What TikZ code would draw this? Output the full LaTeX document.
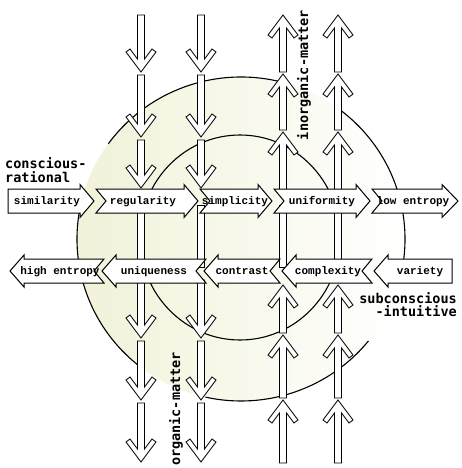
\documentclass[tikz,border=0pt]{standalone}
\usepackage{fontspec}
\newfontfamily\boxfont{Liberation Mono}
\newfontfamily\lblfont{DejaVu Sans Mono}
\definecolor{pale}{RGB}{241,242,216}
\tikzset{
  hbox/.style={draw=black, fill=white, line width=1pt, line join=miter},
  varrow/.style={draw=black, fill=white, line width=0.85pt, line join=miter},
  circ/.style={draw=black, line width=1.1pt},
  btext/.style={font=\boxfont\bfseries\fontsize{11}{11}\selectfont, inner sep=0pt, anchor=base},
  ltext/.style={font=\lblfont\bfseries\fontsize{13.5}{13.5}\selectfont, inner sep=0pt},
}
% down arrow: #1 column x, #2 shaft top, #3 tip
\newcommand\downar[3]{\draw[varrow] (#1-3.5,#2) -- (#1-3.5,#3-13) -- (#1-11,#3-23) -- (#1-15,#3-20) -- (#1,#3) -- (#1+15,#3-20) -- (#1+11,#3-23) -- (#1+3.5,#3-13) -- (#1+3.5,#2) -- cycle;}
% up arrow: #1 column x, #2 tip, #3 shaft bottom
\newcommand\upar[3]{\draw[varrow] (#1-3.5,#3) -- (#1-3.5,#2+13) -- (#1-11,#2+23) -- (#1-15,#2+20) -- (#1,#2) -- (#1+15,#2+20) -- (#1+11,#2+23) -- (#1+3.5,#2+13) -- (#1+3.5,#3) -- cycle;}
% right box: #1 yc, #2 tail, #3 notch point, #4 head base, #5 tip
\newcommand\rbox[5]{\draw[hbox] (#2,#1-12) -- (#4,#1-12) -- (#4,#1-16.5) -- (#5,#1) -- (#4,#1+16.5) -- (#4,#1+12) -- (#2,#1+12) -- (#3,#1) -- cycle;}
% left box: #1 yc, #2 tip, #3 head base, #4 notch point, #5 tail
\newcommand\lbox[5]{\draw[hbox] (#5,#1-12) -- (#3,#1-12) -- (#3,#1-16) -- (#2,#1) -- (#3,#1+16) -- (#3,#1+12) -- (#5,#1+12) -- (#4,#1) -- cycle;}
\begin{document}
\begin{tikzpicture}[x=1pt,y=-1pt]
\useasboundingbox (0,0) rectangle (461,468);
\fill[white] (0,0) rectangle (461,468);
% shading
\shade[left color=pale, middle color=pale, right color=white] (241,239) ellipse [x radius=164, y radius=162];
% inner circle
\draw[circ] (240,237.5) ellipse [x radius=100, y radius=102.5];
% outer circle, in visible pieces
\draw[circ] (241,239) ++(216:164 and 162) arc[start angle=216, end angle=284, x radius=164, y radius=162];
\draw[circ] (241,239) ++(306:164 and 162) arc[start angle=306, end angle=375, x radius=164, y radius=162];
\draw[circ] (241,239) ++(39:164 and 162) arc[start angle=39, end angle=102.5, x radius=164, y radius=162];
\draw[circ] (241,239) ++(127:164 and 162) arc[start angle=127, end angle=196, x radius=164, y radius=162];
% vertical arrows, top part
\foreach \c in {141,201}{
  \downar{\c}{15}{72}
  \downar{\c}{75}{137}
  \downar{\c}{140}{188}
  \draw[varrow] (\c-3.5,205) rectangle (\c+3.5,267);
  \downar{\c}{280}{338}
  \downar{\c}{341}{400}
  \downar{\c}{403}{462}
}
\foreach \c in {283,338}{
  \upar{\c}{15}{72}
  \upar{\c}{74}{130}
  \upar{\c}{132}{195}
  \draw[varrow] (\c-3.5,205) rectangle (\c+3.5,267);
  \upar{\c}{285}{333}
  \upar{\c}{335}{398}
  \upar{\c}{400}{463}
}
% row 1 (pointing right)
\rbox{201}{8}{8}{80}{94}
\rbox{201}{96}{106}{184}{198}
\rbox{201}{200}{210}{258}{272}
\rbox{201}{274}{284}{356}{370}
\rbox{201}{372}{382}{442}{458}
\node[btext] (sim) at (47,204.5) {similarity};
\node[btext] (reg) at (143,204.5) {regularity};
\node[btext] (simp) at (235,204.5) {simplicity};
\node[btext] (unif) at (322,204.5) {uniformity};
\node[btext] (low) at (413,204.5) {low entropy};
% row 2 (pointing left)
\lbox{271}{10}{24}{94}{104}
\lbox{271}{102}{116}{196}{206}
\lbox{271}{204}{218}{270}{280}
\lbox{271}{282}{296}{362}{372}
\lbox{271}{374}{388}{452}{452}
\node[btext] (high) at (60,274.5) {high entropy};
\node[btext] (uniq) at (154,274.5) {uniqueness};
\node[btext] (contr) at (242,274.5) {contrast};
\node[btext] (compl) at (328,274.5) {complexity};
\node[btext] (var) at (420,274.5) {variety};
% labels
\node[ltext, anchor=base west] (cons1) at (5,168) {conscious-};
\node[ltext, anchor=base west] (cons2) at (5,182) {rational};
\node[ltext, anchor=base east] (sub1) at (457,303) {subconscious};
\node[ltext, anchor=base east] (sub2) at (457,316) {-intuitive};
\node[ltext, rotate=90] (inorg) at (304,75) {inorganic-matter};
\node[ltext, rotate=90] (org) at (176,409) {organic-matter};
\end{tikzpicture}
\end{document}
